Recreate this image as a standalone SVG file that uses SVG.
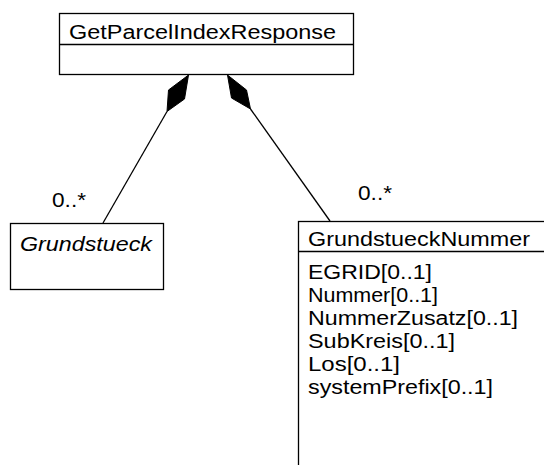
<svg xmlns="http://www.w3.org/2000/svg" width="544" height="465" viewBox="0 0 544 465">
<style>
.box{fill:#fff;stroke:#000;stroke-width:1.3}
.sep{stroke:#000;stroke-width:1.3}
.t{font-family:"Liberation Sans",Arial,sans-serif;font-size:20px;fill:#000}
.it{font-style:italic}
.conn line{stroke:#000;stroke-width:1.3}
.dia{fill:#000;stroke:#000;stroke-width:1}
</style>
<rect width="544" height="465" fill="#fff"/>
<g id="GetParcelIndexResponse">
<rect class="box" x="59.5" y="13.5" width="294" height="61"/>
<line class="sep" x1="59.5" y1="44.5" x2="353.5" y2="44.5"/>
<text class="t" x="69" y="39" textLength="267" lengthAdjust="spacingAndGlyphs">GetParcelIndexResponse</text>
</g>
<g id="Grundstueck">
<rect class="box" x="10.5" y="223.5" width="153" height="66"/>
<text class="t it" x="20" y="251" textLength="132" lengthAdjust="spacingAndGlyphs">Grundstueck</text>
</g>
<g id="GrundstueckNummer">
<rect class="box" x="298.5" y="221.5" width="300" height="300"/>
<line class="sep" x1="298.5" y1="251.5" x2="544" y2="251.5"/>
<text class="t" x="308" y="245.5" textLength="222" lengthAdjust="spacingAndGlyphs">GrundstueckNummer</text>
<text class="t" x="308" y="279" textLength="124" lengthAdjust="spacingAndGlyphs">EGRID[0..1]</text>
<text class="t" x="308" y="302" textLength="130" lengthAdjust="spacingAndGlyphs">Nummer[0..1]</text>
<text class="t" x="308" y="325" textLength="210" lengthAdjust="spacingAndGlyphs">NummerZusatz[0..1]</text>
<text class="t" x="308" y="348" textLength="147" lengthAdjust="spacingAndGlyphs">SubKreis[0..1]</text>
<text class="t" x="308" y="371" textLength="92" lengthAdjust="spacingAndGlyphs">Los[0..1]</text>
<text class="t" x="308" y="394" textLength="185" lengthAdjust="spacingAndGlyphs">systemPrefix[0..1]</text>
</g>
<g id="connectors" class="conn">
<line x1="167" y1="111.5" x2="103" y2="223"/>
<polygon class="dia" points="188.5,75 184.5,99 167,111.5 168.5,90"/>
<text class="t" x="52" y="207" textLength="34" lengthAdjust="spacingAndGlyphs">0..*</text>
<line x1="250.5" y1="109" x2="330" y2="221"/>
<polygon class="dia" points="227.5,75 246.5,90 250.5,109 231.5,98"/>
<text class="t" x="358" y="200" textLength="34" lengthAdjust="spacingAndGlyphs">0..*</text>
</g>
</svg>
